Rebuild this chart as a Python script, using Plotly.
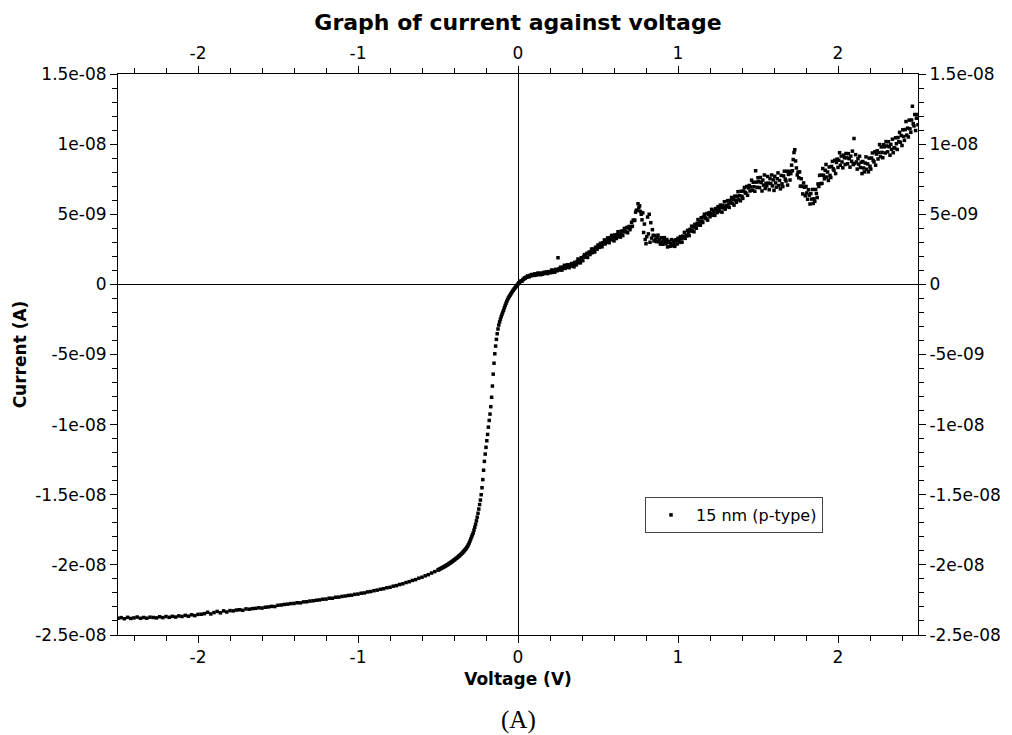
import numpy as np
import plotly.graph_objects as go

# ---------------- data (current in nA) ----------------
# Segment 1: sweep -2.50 V ... -0.50 V, step 0.02 V
seg1_start, seg1_step = -2.50, 0.02
seg1_current_nA = [
    -23.80, -23.76, -23.84, -23.74, -23.82, -23.78, -23.72, -23.81, -23.75, -23.80,
    -23.73, -23.75, -23.78, -23.70, -23.76, -23.68, -23.74, -23.67, -23.72, -23.64,
    -23.68, -23.60, -23.66, -23.56, -23.62, -23.53, -23.52, -23.48, -23.38, -23.50,
    -23.40, -23.32, -23.42, -23.28, -23.36, -23.26, -23.28, -23.22, -23.20, -23.24,
    -23.14, -23.16, -23.12, -23.10, -23.06, -23.08, -23.02, -23.00, -22.96, -22.97,
    -22.88, -22.86, -22.82, -22.80, -22.76, -22.75, -22.70, -22.71, -22.64, -22.63,
    -22.58, -22.56, -22.52, -22.50, -22.45, -22.44, -22.38, -22.38, -22.31, -22.30,
    -22.25, -22.22, -22.18, -22.16, -22.10, -22.08, -22.02, -22.00, -21.93, -21.90,
    -21.84, -21.80, -21.74, -21.70, -21.63, -21.60, -21.52, -21.48, -21.40, -21.35,
    -21.26, -21.20, -21.11, -21.05, -20.95, -20.88, -20.78, -20.70, -20.58, -20.48,
    -20.37,
]
# Segment 2: sweep -0.495 V ... 0.000 V, step 0.005 V
seg2_start, seg2_step = -0.495, 0.005
seg2_current_nA = [
    -20.34, -20.30, -20.28, -20.24, -20.22, -20.18, -20.16, -20.12, -20.09, -20.05,
    -20.02, -19.98, -19.95, -19.90, -19.87, -19.83, -19.79, -19.75, -19.70, -19.66,
    -19.62, -19.57, -19.53, -19.48, -19.44, -19.38, -19.34, -19.28, -19.23, -19.17,
    -19.11, -19.05, -18.98, -18.91, -18.84, -18.76, -18.67, -18.57, -18.44, -18.30,
    -18.15, -18.00, -17.86, -17.72, -17.52, -17.32, -17.10, -16.86, -16.60, -16.32,
    -16.02, -15.70, -15.38, -15.00, -14.50, -13.92, -13.25, -12.62, -12.10, -11.62,
    -11.15, -10.70, -10.18, -9.70, -9.25, -8.72, -8.05, -7.25, -6.40, -5.62,
    -4.95, -4.40, -3.92, -3.52, -3.18, -2.90, -2.68, -2.48, -2.30, -2.14,
    -1.98, -1.84, -1.66, -1.50, -1.35, -1.21, -1.08, -0.97, -0.87, -0.78,
    -0.68, -0.60, -0.50, -0.42, -0.34, -0.27, -0.19, -0.12, -0.05, 0.02,
]
# Segment 3: sweep 0.005 V ... 2.500 V, step 0.005 V
seg3_start, seg3_step = 0.005, 0.005
seg3_current_nA = [
    0.11, 0.12, 0.22, 0.24, 0.23, 0.34, 0.36, 0.46, 0.43, 0.50,
    0.51, 0.60, 0.57, 0.54, 0.64, 0.62, 0.70, 0.64, 0.70, 0.64,
    0.75, 0.70, 0.67, 0.75, 0.81, 0.71, 0.76, 0.69, 0.81, 0.75,
    0.72, 0.82, 0.87, 0.81, 0.79, 0.89, 0.77, 0.87, 0.91, 0.83,
    0.89, 1.02, 0.85, 1.00, 0.94, 0.87, 1.07, 1.05, 0.97, 1.90,
    1.10, 1.02, 1.22, 1.15, 1.02, 1.23, 1.16, 1.36, 1.14, 1.25,
    1.23, 1.40, 1.30, 1.19, 1.40, 1.33, 1.49, 1.31, 1.43, 1.25,
    1.57, 1.45, 1.39, 1.63, 1.81, 1.54, 1.70, 1.54, 1.90, 1.74,
    1.69, 1.97, 2.12, 1.96, 1.95, 2.21, 1.92, 2.20, 2.31, 2.13,
    2.30, 2.52, 2.26, 2.52, 2.42, 2.31, 2.65, 2.63, 2.51, 2.81,
    2.74, 2.64, 2.92, 2.84, 2.68, 2.97, 2.89, 3.17, 2.89, 3.05,
    3.01, 3.31, 3.14, 2.97, 3.33, 3.21, 3.49, 3.19, 3.40, 3.10,
    3.53, 3.36, 3.27, 3.55, 3.75, 3.41, 3.59, 3.37, 3.80, 3.58,
    3.48, 3.82, 3.99, 3.78, 3.74, 4.06, 3.68, 4.02, 4.13, 3.90,
    4.10, 4.43, 4.15, 4.58, 4.55, 4.58, 5.15, 5.28, 5.28, 5.75,
    5.45, 5.60, 5.20, 5.00, 4.60, 5.10, 3.70, 4.30, 3.20, 2.90,
    3.40, 4.80, 3.60, 5.00, 3.00, 4.40, 3.30, 3.90, 3.50, 3.10,
    3.48, 3.22, 3.05, 3.32, 3.51, 3.04, 3.20, 2.87, 3.33, 3.01,
    2.86, 3.20, 3.33, 3.00, 2.89, 3.20, 2.67, 3.00, 3.07, 2.72,
    2.90, 3.19, 2.75, 3.10, 2.91, 2.71, 3.18, 3.11, 2.88, 3.29,
    3.16, 2.99, 3.40, 3.26, 3.01, 3.44, 3.31, 3.71, 3.28, 3.50,
    3.46, 3.85, 3.66, 3.48, 3.92, 3.80, 4.15, 3.82, 4.08, 3.75,
    4.28, 4.10, 4.00, 4.36, 4.62, 4.23, 4.46, 4.22, 4.75, 4.51,
    4.41, 4.81, 5.00, 4.74, 4.69, 5.05, 4.58, 4.98, 5.11, 4.82,
    5.05, 5.35, 4.93, 5.28, 5.10, 4.92, 5.40, 5.33, 5.12, 5.54,
    5.42, 5.20, 5.65, 5.47, 5.15, 5.63, 5.45, 5.89, 5.36, 5.60,
    5.55, 5.97, 5.73, 5.49, 5.98, 5.81, 6.20, 5.78, 6.07, 5.65,
    6.29, 6.01, 5.85, 6.29, 6.61, 6.04, 6.32, 5.96, 6.64, 6.28,
    6.13, 6.66, 6.91, 6.56, 6.49, 6.98, 6.35, 6.88, 7.05, 6.66,
    6.95, 7.43, 6.71, 7.28, 6.96, 6.64, 8.10, 7.29, 6.92, 7.60,
    7.32, 6.90, 7.62, 7.26, 6.66, 7.44, 7.08, 7.80, 6.84, 7.20,
    7.02, 7.69, 7.22, 6.75, 7.54, 7.19, 7.80, 7.02, 7.45, 6.70,
    7.71, 7.23, 6.93, 7.53, 7.95, 7.05, 7.41, 6.81, 7.77, 7.17,
    6.97, 7.73, 8.07, 7.51, 7.37, 8.06, 7.08, 7.84, 8.06, 7.44,
    7.90, 8.50, 8.10, 8.90, 9.40, 9.60, 8.80, 8.30, 7.80, 8.00,
    7.60, 8.02, 7.00, 7.53, 6.99, 6.45, 7.23, 6.92, 6.32, 6.98,
    6.52, 6.07, 6.75, 6.36, 5.73, 6.47, 6.08, 6.77, 5.77, 6.10,
    5.92, 6.77, 6.48, 6.19, 7.16, 6.98, 7.77, 7.18, 7.79, 7.20,
    8.26, 7.78, 7.53, 8.13, 8.55, 7.65, 8.01, 7.41, 8.37, 7.77,
    7.62, 8.41, 8.77, 8.24, 8.13, 8.85, 7.90, 8.69, 8.93, 8.34,
    8.85, 9.39, 8.49, 9.15, 8.73, 8.31, 9.21, 9.03, 8.55, 9.33,
    9.02, 8.60, 9.32, 8.96, 8.36, 9.14, 8.78, 9.50, 8.54, 10.40,
    8.62, 9.25, 8.73, 8.22, 8.97, 8.57, 9.14, 8.33, 8.71, 7.90,
    8.76, 8.30, 8.02, 8.65, 9.09, 8.21, 8.59, 8.02, 9.00, 8.42,
    8.22, 9.01, 9.37, 8.84, 8.73, 9.45, 8.50, 9.29, 9.53, 8.94,
    9.40, 9.97, 9.11, 9.80, 9.41, 9.03, 9.96, 9.81, 9.37, 10.18,
    9.87, 9.45, 10.17, 9.81, 9.21, 9.99, 9.63, 10.35, 9.39, 9.75,
    9.72, 10.45, 10.03, 9.62, 10.47, 10.17, 10.84, 10.13, 10.61, 9.90,
    11.02, 10.54, 10.27, 11.04, 11.61, 10.64, 11.14, 10.51, 11.71, 11.09,
    10.84, 11.72, 12.70, 11.46, 11.30, 12.11, 10.97, 11.85, 12.11, 11.38,
]

series_name = "15 nm (p-type)"
x_tick_vals = [-2, -1, 0, 1, 2]
x_tick_text = ["-2", "-1", "0", "1", "2"]
y_tick_vals = [1.5e-08, 1e-08, 5e-09, 0, -5e-09, -1e-08, -1.5e-08, -2e-08, -2.5e-08]
y_tick_text = ["1.5e-08", "1e-08", "5e-09", "0", "-5e-09", "-1e-08", "-1.5e-08", "-2e-08", "-2.5e-08"]

# ---------------- assemble sweep ----------------
def sweep(start, step, n):
    return np.round(start + step * np.arange(n), 4)

voltage = np.concatenate([
    sweep(seg1_start, seg1_step, len(seg1_current_nA)),
    sweep(seg2_start, seg2_step, len(seg2_current_nA)),
    sweep(seg3_start, seg3_step, len(seg3_current_nA)),
])
current = np.array(seg1_current_nA + seg2_current_nA + seg3_current_nA) * 1e-9

FONT = "DejaVu Sans"
TICKFONT = dict(family=FONT, size=17, color="black")

fig = go.Figure()
fig.add_trace(go.Scatter(
    x=voltage, y=current, mode="markers", name=series_name,
    marker=dict(symbol="square", size=3.5, color="black", line=dict(width=0)),
    xaxis="x", yaxis="y",
))
# ghost trace so mirrored top/right axes are drawn
fig.add_trace(go.Scatter(
    x=voltage, y=current, mode="markers", showlegend=False, hoverinfo="skip",
    marker=dict(size=1, opacity=0), xaxis="x2", yaxis="y2",
))

axis_common = dict(showgrid=False, showline=True, linecolor="black", linewidth=1,
                   ticks="outside", ticklen=7, tickwidth=1, tickcolor="black",
                   tickfont=TICKFONT)

fig.update_layout(
    width=1012, height=735,
    margin=dict(l=118, r=94, t=74, b=100),
    paper_bgcolor="white", plot_bgcolor="white",
    font=dict(family=FONT, color="black"),
    title=dict(text="<b>Graph of current against voltage</b>", x=0.5, xref="paper",
               y=1 - 22 / 735, yref="container", xanchor="center", yanchor="middle",
               font=dict(family=FONT, size=22, color="black")),
    xaxis=dict(range=[-2.5, 2.5], tickmode="array", tickvals=x_tick_vals, ticktext=x_tick_text,
               zeroline=True, zerolinecolor="black", zerolinewidth=1,
               minor=dict(tickmode="linear", tick0=0, dtick=0.2, ticks="outside", ticklen=5,
                          tickcolor="black", showgrid=False),
               title=dict(text="<b>Voltage (V)</b>", font=dict(family=FONT, size=17), standoff=6),
               **axis_common),
    xaxis2=dict(range=[-2.5, 2.5], overlaying="x", side="top", tickmode="array",
                tickvals=x_tick_vals, ticktext=x_tick_text, zeroline=False,
                minor=dict(tickmode="linear", tick0=0, dtick=0.2, ticks="outside", ticklen=5,
                           tickcolor="black", showgrid=False),
                **axis_common),
    yaxis=dict(range=[-2.5e-08, 1.5e-08], tickmode="array", tickvals=y_tick_vals, ticktext=y_tick_text,
               zeroline=True, zerolinecolor="black", zerolinewidth=1,
               minor=dict(tickmode="linear", tick0=0, dtick=1e-09, ticks="outside", ticklen=5,
                          tickcolor="black", showgrid=False),
               title=dict(text="<b>Current (A)</b>", font=dict(family=FONT, size=17), standoff=4),
               **axis_common),
    yaxis2=dict(range=[-2.5e-08, 1.5e-08], overlaying="y", side="right", tickmode="array",
                tickvals=y_tick_vals, ticktext=y_tick_text, zeroline=False,
                minor=dict(tickmode="linear", tick0=0, dtick=1e-09, ticks="outside", ticklen=5,
                           tickcolor="black", showgrid=False),
                **axis_common),
    legend=dict(x=(645 - 118) / 800, y=(635 - 497) / 561, xanchor="left", yanchor="top",
                bgcolor="white", bordercolor="#444444", borderwidth=1, itemwidth=40,
                font=dict(family=FONT, size=16, color="black")),
    showlegend=True,
    annotations=[dict(text="(A)", xref="paper", yref="paper", x=0.5, y=(635 - 720) / 561,
                      xanchor="center", yanchor="middle", showarrow=False,
                      font=dict(family="Liberation Serif", size=25, color="black"))],
)

fig.write_html("out.html")
